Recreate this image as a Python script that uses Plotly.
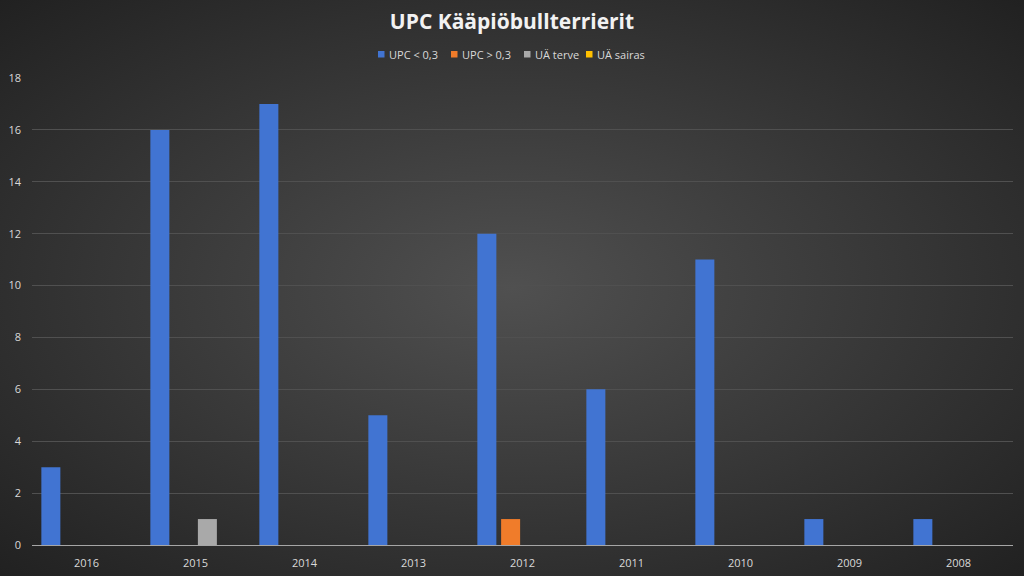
import plotly.graph_objects as go
import urllib.parse

years = ["2016", "2015", "2014", "2013", "2012", "2011", "2010", "2009", "2008"]
upc_low = [3, 16, 17, 5, 12, 6, 11, 1, 1]
upc_high = [0, 0, 0, 0, 1, 0, 0, 0, 0]
ua_terve = [0, 1, 0, 0, 0, 0, 0, 0, 0]
ua_sairas = [0, 0, 0, 0, 0, 0, 0, 0, 0]
y_ticks = [0, 2, 4, 6, 8, 10, 12, 14, 16, 18]

series = [
    ("UPC < 0,3", upc_low, "#4174d2"),
    ("UPC > 0,3", upc_high, "#f07c2a"),
    ("UÄ terve", ua_terve, "#a9a9a9"),
    ("UÄ sairas", ua_sairas, "#ffc000"),
]

W, H = 1024, 576
L, R, T, B = 32, 11, 78, 31
PW, PH = W - L - R, H - T - B

fig = go.Figure()
for name, vals, col in series:
    fig.add_trace(go.Bar(
        x=years, y=vals, name=name,
        marker=dict(color=col, line=dict(width=0)),
        showlegend=False,
    ))

svg = (
    '<svg xmlns="http://www.w3.org/2000/svg" width="1024" height="576">'
    '<defs><radialGradient id="g" cx="50%" cy="50%" r="75%">'
    '<stop offset="0%" stop-color="#505050"/>'
    '<stop offset="100%" stop-color="#1e1e1e"/>'
    '</radialGradient></defs>'
    '<rect width="1024" height="576" fill="url(#g)"/></svg>'
)
bg = "data:image/svg+xml;charset=utf-8," + urllib.parse.quote(svg)

def px_x(p):
    return (p - L) / PW

def px_y(p):
    return 1 - (p - T) / PH

# custom compact legend (Excel style)
legend_pos = [378, 451, 524, 586]
shapes = []
annotations = []
for (name, _, col), sx in zip(series, legend_pos):
    shapes.append(dict(type="rect", xref="paper", yref="paper",
                       x0=px_x(sx), x1=px_x(sx + 6.5), y0=px_y(57.5), y1=px_y(51),
                       fillcolor=col, line=dict(width=0), layer="above"))
    annotations.append(dict(text=name, xref="paper", yref="paper", x=px_x(sx + 8.5),
                            y=px_y(54), xanchor="left", yanchor="middle", showarrow=False,
                            font=dict(family="Open Sans", size=11, color="#d9d9d9")))

fig.update_layout(
    width=W, height=H,
    margin=dict(l=L, r=R, t=T, b=B, autoexpand=False),
    paper_bgcolor="#333333",
    plot_bgcolor="rgba(0,0,0,0)",
    images=[dict(source=bg, xref="paper", yref="paper", x=-L / PW, y=1 + T / PH,
                 sizex=W / PW, sizey=H / PH, xanchor="left", yanchor="top",
                 sizing="stretch", layer="below")],
    title=dict(text="<b>UPC Kääpiöbullterrierit</b>", x=0.5, xref="container", xanchor="center",
               y=0.962, yanchor="middle",
               font=dict(family="Open Sans", size=21, color="#f2f2f2")),
    font=dict(family="Open Sans", color="#d9d9d9"),
    barmode="group",
    bargap=0.128,
    bargroupgap=0.2,
    showlegend=False,
    shapes=shapes,
    annotations=annotations,
    xaxis=dict(type="category", showgrid=False, showline=True, linecolor="#a6a6a6",
               linewidth=1, ticks="", tickfont=dict(size=11, color="#d9d9d9"),
               ticklabelstandoff=8, zeroline=False, automargin=False),
    yaxis=dict(range=[0, 18], tickvals=y_ticks, showgrid=True, gridcolor="#505050",
               gridwidth=1, zeroline=False, showline=False, ticks="",
               tickfont=dict(size=11, color="#d9d9d9"), ticklabelstandoff=10,
               automargin=False),
)

fig.write_html("out.html")
